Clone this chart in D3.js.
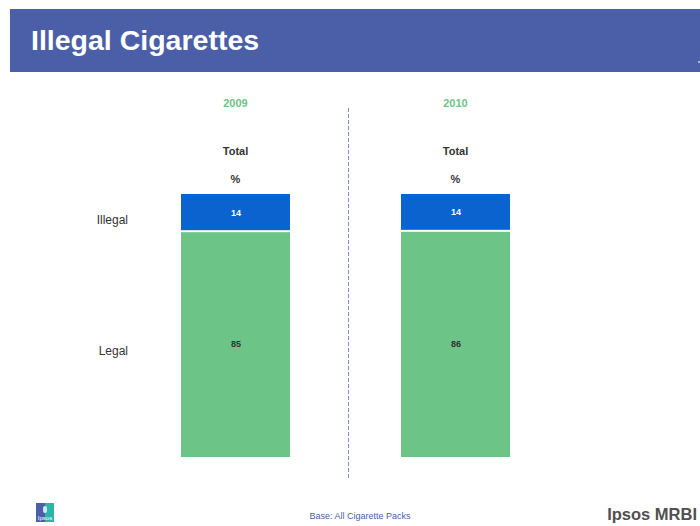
<!DOCTYPE html>
<html><head><meta charset="utf-8">
<script src="https://cdn.jsdelivr.net/npm/d3@7"></script>
<style>body{margin:0;background:#fff}svg{display:block;font-family:"Liberation Sans",Arial,sans-serif}</style>
</head><body><svg id="c" width="700" height="526"></svg>
<script>
const years = ["2009", "2010"];
const categories = ["Illegal", "Legal"];
const illegal = [14, 14];
const legal = [85, 86];
const title = "Illegal Cigarettes";
const baseNote = "Base:  All Cigarette Packs";

const svg = d3.select("#c");
// header band
svg.append("rect").attr("x", 10).attr("y", 9).attr("width", 690).attr("height", 63).attr("fill", "#4a5fa8");
svg.append("text").attr("x", 31).attr("y", 50).text(title)
  .attr("fill", "#fff").attr("font-size", 28.5).attr("font-weight", "bold");
svg.append("rect").attr("x", 698).attr("y", 61).attr("width", 2).attr("height", 2).attr("fill", "#aab4dc");

const rows = years.map((y, i) => ({year: y, Illegal: illegal[i], Legal: legal[i]}));
const stack = d3.stack().keys(categories).offset(d3.stackOffsetExpand)(rows);

const x = d3.scaleBand().domain(years).range([126, 566]).paddingInner(0.5).paddingOuter(0.25);
const y = d3.scaleLinear().domain([0, 1]).range([194, 457]);
const color = d3.scaleOrdinal().domain(categories).range(["#0a63cf", "#6dc487"]);

const g = svg.append("g");
stack.forEach(s => {
  g.selectAll(null).data(s).join("rect")
    .attr("x", d => x(d.data.year))
    .attr("width", x.bandwidth() - 1)
    .attr("y", d => y(d[0]) + (s.key === "Legal" ? 1 : 0))
    .attr("height", d => y(d[1]) - y(d[0]) - 1)
    .attr("fill", color(s.key));
  g.selectAll(null).data(s).join("text")
    .attr("x", d => x(d.data.year) + x.bandwidth() / 2)
    .attr("y", d => (y(d[0]) + y(d[1])) / 2 + 3)
    .attr("text-anchor", "middle").attr("font-size", 9).attr("font-weight", "bold")
    .attr("fill", s.key === "Illegal" ? "#fff" : "#333")
    .text((d, i) => s.key === "Illegal" ? illegal[i] : legal[i]);
});

// category labels
stack.forEach(s => {
  const d = s[0];
  svg.append("text").attr("x", 128).attr("y", (y(d[0]) + y(d[1])) / 2 + 11)
    .attr("text-anchor", "end").attr("font-size", 12).attr("fill", "#333").text(s.key);
});

// column headers
years.forEach(yr => {
  const cx = x(yr) + x.bandwidth() / 2 - 0.5;
  svg.append("text").attr("x", cx).attr("y", 107).attr("text-anchor", "middle")
    .attr("font-size", 11).attr("font-weight", "bold").attr("fill", "#6dc487").text(yr);
  svg.append("text").attr("x", cx).attr("y", 155).attr("text-anchor", "middle")
    .attr("font-size", 11).attr("font-weight", "bold").attr("fill", "#333").text("Total");
  svg.append("text").attr("x", cx).attr("y", 183).attr("text-anchor", "middle")
    .attr("font-size", 11).attr("font-weight", "bold").attr("fill", "#333").text("%");
});

// dashed divider
svg.append("line").attr("x1", 348.5).attr("x2", 348.5).attr("y1", 108).attr("y2", 478)
  .attr("stroke", "#7d90cc").attr("stroke-width", 1).attr("stroke-dasharray", "4,2");

// footer
svg.append("text").attr("x", 360).attr("y", 519).attr("text-anchor", "middle")
  .attr("font-size", 9).attr("fill", "#4a5fa8").text(baseNote);
svg.append("text").attr("x", 697).attr("y", 520).attr("text-anchor", "end")
  .attr("font-size", 16.5).attr("font-weight", "bold").attr("fill", "#505050").text("Ipsos MRBI");
// small logo
const lg = svg.append("g").attr("transform", "translate(36,503)");
lg.append("rect").attr("width", 9).attr("height", 19).attr("fill", "#4a5fa8");
lg.append("rect").attr("x", 9).attr("width", 9).attr("height", 19).attr("fill", "#2bb5a8");
lg.append("rect").attr("x", 7).attr("y", 3).attr("width", 4).attr("height", 7).attr("rx", 2).attr("fill", "#cfe4f0");
lg.append("text").attr("x", 9).attr("y", 17).attr("text-anchor", "middle").attr("font-size", 6).attr("fill", "#fff").text("Ipsos");
</script></body></html>
